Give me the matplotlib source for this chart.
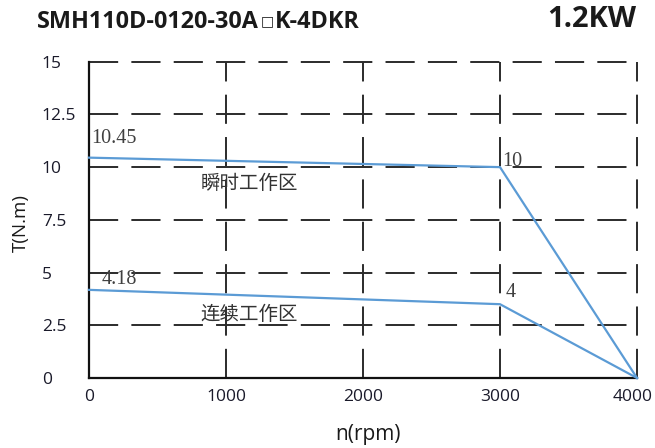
import matplotlib
matplotlib.use('Agg')
import matplotlib.pyplot as plt
from matplotlib.ticker import FixedLocator
from matplotlib.transforms import offset_copy

# ---- data ----
speed = [0, 3000, 4000]
peak_torque = [10.45, 10, 0]
cont_torque = [4.18, 3.5, 0]
x_ticks = [0, 1000, 2000, 3000, 4000]
x_tick_labels = ['0', '1000', '2000', '3000', '4000']
y_ticks = [0, 2.5, 5, 7.5, 10, 12.5, 15]
y_tick_labels = ['0', '2.5', '5', '7.5', '10', '12.5', '15']
title_parts = ['SMH110D-0120-30A', '□', 'K-4DKR']
power = '1.2KW'
peak_zone = '瞬时工作区'
cont_zone = '连续工作区'
zone_x = 1168
peak_zone_y = 9.22
cont_zone_y = 3.03

plt.rcParams['lines.scale_dashes'] = False
sans = ['Open Sans', 'DejaVu Sans']
cjk = ['Noto Sans CJK SC', 'DejaVu Sans']
serif = ['Liberation Serif', 'DejaVu Serif']

W, H = 655, 448
fig = plt.figure(figsize=(W/100, H/100), dpi=100)
ax = fig.add_axes([89/W, 1-378/H, (637-89)/W, (378-61.7)/H])

ax.set_xlim(0, 4000)
ax.set_ylim(0, 15)

# grid (dashed) including at the top / right limits
for yv in y_ticks[1:]:
    ax.axhline(yv, color='#2b2b2b', lw=1.4, dashes=(21, 9.5), zorder=1, clip_on=False)
for xv in x_ticks[1:]:
    ax.axvline(xv, color='#2b2b2b', lw=1.4, dashes=(21, 9.5), zorder=1, clip_on=False)

for s in ['top', 'right']:
    ax.spines[s].set_visible(False)
for s in ['left', 'bottom']:
    ax.spines[s].set_linewidth(1.6)
    ax.spines[s].set_color('#111111')
    ax.spines[s].set_zorder(3)

blue = '#5b9bd5'
ax.plot(speed, peak_torque, color=blue, lw=1.6, zorder=4, clip_on=False)
ax.plot(speed, cont_torque, color=blue, lw=1.6, zorder=4, clip_on=False)

ax.xaxis.set_major_locator(FixedLocator(x_ticks))
ax.yaxis.set_major_locator(FixedLocator(y_ticks))
ax.set_xticklabels(x_tick_labels, fontfamily=sans, fontsize=12.5, color='#1a1a2a')
ax.set_yticklabels(y_tick_labels, fontfamily=sans, fontsize=12.5, color='#1a1a2a', ha='left')
ax.tick_params(axis='x', length=0, pad=8)
ax.tick_params(axis='y', length=0, pad=34)
last = ax.get_xticklabels()[-1]
last.set_transform(offset_copy(last.get_transform(), fig=fig, x=-4, y=0, units='dots'))

# value annotations
tcol = '#404040'
ax.annotate('10.45', (speed[0], peak_torque[0]), xytext=(1.5, 13.5), textcoords='offset points',
            ha='left', va='center', fontfamily=serif, fontsize=14.5, color=tcol, zorder=5)
ax.annotate('10', (speed[1], peak_torque[1]), xytext=(1.5, 4), textcoords='offset points',
            ha='left', va='center', fontfamily=serif, fontsize=14.5, color=tcol, zorder=5)
ax.annotate('4.18', (speed[0], cont_torque[0]), xytext=(9, 7.5), textcoords='offset points',
            ha='left', va='center', fontfamily=serif, fontsize=14.5, color=tcol, zorder=5)
ax.annotate('4', (speed[1], cont_torque[1]), xytext=(4, 8.5), textcoords='offset points',
            ha='left', va='center', fontfamily=serif, fontsize=14.5, color=tcol, zorder=5)

ax.text(zone_x, peak_zone_y, peak_zone, ha='center', va='center', fontfamily=cjk,
        fontsize=14, color='#333333', zorder=5)
ax.text(zone_x, cont_zone_y, cont_zone, ha='center', va='center', fontfamily=cjk,
        fontsize=14, color='#333333', zorder=5)

# title built from pieces so the box glyph can be smaller, all on one baseline
base_y = 1 - 28/H
renderer = fig.canvas.get_renderer()
t1 = fig.text(37/W, base_y, title_parts[0], ha='left', va='baseline', fontfamily=sans,
              fontweight='bold', fontsize=16.8, color='#1a1a1a')
x1 = t1.get_window_extent(renderer).x1
t2 = fig.text((x1 + 1.5)/W, base_y + 2.5/H, title_parts[1], ha='left', va='baseline',
              fontfamily=['DejaVu Sans'], fontsize=10, color='#1a1a1a')
x2 = t2.get_window_extent(renderer).x1
fig.text((x2 + 1.5)/W, base_y, title_parts[2], ha='left', va='baseline', fontfamily=sans,
         fontweight='bold', fontsize=16.8, color='#1a1a1a')

fig.text(547/W, 1-27/H, power, ha='left', va='baseline', fontfamily=sans,
         fontweight='bold', fontsize=21, color='#1a1a1a')
fig.text(21/W, 1-223/H, 'T(N.m)', ha='center', va='center', rotation=90,
         fontfamily=sans, fontsize=13.5, color='#1a1a1a')
fig.text(368/W, 1-434/H, 'n(rpm)', ha='center', va='center',
         fontfamily=sans, fontsize=15, color='#1a1a1a')

fig.savefig('out.png', dpi=100)
